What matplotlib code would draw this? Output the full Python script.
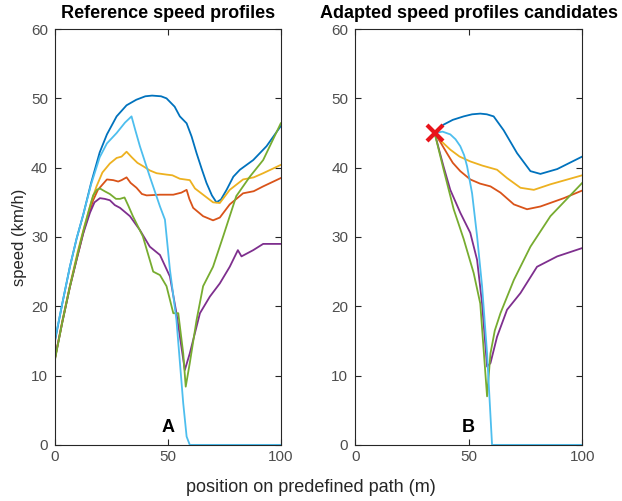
#reference and adapted speed profiles
import numpy as np
import matplotlib.pyplot as plt

plt.rcParams['font.family'] = ['Liberation Sans', 'DejaVu Sans']

#colours of the profiles
c_blue = "#0072BD"
c_orange = "#D95319"
c_yellow = "#EDB120"
c_purple = "#7E2F8E"
c_green = "#77AC30"
c_cyan = "#4DBEEE"

#panel A: reference speed profiles (position m, speed km/h)
a_blue_x = [0, 3.3, 6.6, 9.6, 12.5, 16, 19.8, 23, 27.3, 31.7, 36, 40, 43, 47, 49.4, 53, 55.3, 58.3, 60.5, 62.7, 65, 67.1, 69.5, 71.5, 73.5, 76, 79, 81.9, 87.8, 93.7, 100]
a_blue_y = [15, 20.5, 25.7, 29.8, 33.2, 37.8, 42.2, 44.8, 47.4, 49.0, 49.8, 50.3, 50.4, 50.3, 50.0, 48.8, 47.4, 46.4, 44.5, 42.1, 39.8, 37.8, 36.0, 35.0, 35.4, 36.8, 38.7, 39.7, 41.1, 43.1, 46.0]

a_cyan_x = [0, 3.3, 6.6, 9.6, 12.5, 16, 19.8, 23, 27.3, 31, 33.9, 35.5, 37.6, 42, 46.5, 48.7, 50.9, 53.8, 56.8, 58.3, 59.7, 100]
a_cyan_y = [15.2, 20.5, 25.7, 29.8, 33.2, 37.6, 41.5, 43.5, 45.0, 46.5, 47.4, 45.5, 43.1, 38.7, 34.4, 32.5, 25.3, 18.0, 6.0, 1.2, 0, 0]

a_yellow_x = [0, 3.3, 6.6, 10, 13, 16, 18.4, 21, 24.3, 27.3, 29.5, 31.7, 34, 36.5, 39.1, 42, 45, 49.4, 52, 55.3, 59.7, 62, 65.6, 70, 73, 77.4, 83.3, 88, 92.2, 100]
a_yellow_y = [12.5, 18.0, 23.0, 27.8, 31.5, 35.0, 37.3, 39.3, 40.6, 41.4, 41.6, 42.3, 41.5, 40.7, 40.2, 39.6, 39.2, 39.0, 38.9, 38.4, 38.2, 37.0, 36.1, 35.0, 34.9, 36.8, 38.3, 38.6, 39.2, 40.4]

a_orange_x = [0, 3.3, 6.6, 10, 13, 16.9, 19, 21.4, 23, 25.8, 28, 29.5, 31.7, 33.5, 36.1, 38.5, 40.6, 46.5, 52.4, 56, 58.3, 59.5, 61.2, 65.6, 70, 73, 77.4, 83.3, 88, 92.2, 100]
a_orange_y = [12.5, 17.8, 22.8, 27.3, 31.2, 35.3, 36.8, 37.7, 38.3, 38.2, 38.0, 38.2, 38.6, 37.8, 37.1, 36.2, 36.0, 36.1, 36.1, 36.4, 36.8, 35.5, 34.2, 33.0, 32.4, 32.8, 34.7, 36.3, 36.6, 37.3, 38.5]

a_green_x = [0, 3.3, 6.6, 10, 12.5, 15, 16.9, 18.5, 19.9, 22, 24.3, 27, 28.8, 30.8, 32.5, 34.5, 38.9, 43.5, 46.5, 49.4, 52.4, 54.6, 56.8, 57.9, 59.7, 62.7, 65.6, 70, 74.5, 80.3, 86.3, 92.2, 100]
a_green_y = [12.3, 17.8, 22.8, 27.5, 30.8, 33.8, 36.0, 36.8, 37.0, 36.6, 36.2, 35.5, 35.5, 35.7, 34.5, 33.0, 30.1, 25.0, 24.5, 22.9, 19.0, 19.0, 13.2, 8.4, 11.8, 18.0, 22.9, 25.7, 30.1, 35.9, 38.7, 41.1, 46.4]

a_purple_x = [0, 3.3, 6.6, 10, 12.5, 15.5, 17.5, 19.9, 22, 24.3, 26.5, 28.8, 33.2, 37.6, 42, 46.5, 50.9, 53.8, 57.5, 59.7, 64.2, 68.6, 73, 77.4, 81, 82.6, 87.8, 92.2, 100]
a_purple_y = [12.5, 17.8, 22.8, 27.3, 30.5, 33.5, 35.0, 35.6, 35.5, 35.3, 34.6, 34.2, 33.0, 31.0, 28.6, 27.4, 24.3, 19.0, 10.8, 13.2, 19.0, 21.4, 23.3, 25.7, 28.1, 27.2, 28.1, 29.0, 29.0]

#panel B: adapted candidates, all starting at the red cross
x0 = 35
v0 = 45

b_blue_x = [35, 38.9, 43, 47.8, 51.5, 55.1, 58, 61, 65.4, 71.3, 77.2, 81.6, 89, 100]
b_blue_y = [45, 46.2, 46.9, 47.4, 47.7, 47.8, 47.7, 47.4, 45.4, 42.1, 39.5, 39.1, 39.8, 41.6]

b_yellow_x = [35, 38, 41.9, 46, 50.7, 56, 62.5, 66.9, 72.8, 78.7, 86, 100]
b_yellow_y = [45, 43.8, 42.6, 41.6, 40.9, 40.3, 39.7, 38.5, 37.1, 36.8, 37.6, 38.9]

b_orange_x = [35, 37.5, 40.4, 43, 46.3, 50.7, 55, 59.6, 64, 69.9, 75.7, 81.6, 91.9, 100]
b_orange_y = [45, 43.7, 42.1, 40.7, 39.5, 38.3, 37.7, 37.3, 36.4, 34.7, 34.0, 34.4, 35.6, 36.7]

b_cyan_x = [35, 38.5, 41.9, 44.2, 46.3, 48, 49.3, 51.5, 53.7, 55.9, 58.1, 60.3, 100]
b_cyan_y = [45, 45.2, 44.8, 44.1, 43.1, 41.8, 40.2, 36.3, 30.1, 22.9, 13.2, 0, 0]

b_purple_x = [35, 38.9, 41.9, 46.3, 50.7, 53.7, 55.9, 58.1, 59.6, 62.5, 66.9, 72.8, 80.1, 89, 100]
b_purple_y = [45, 40.2, 36.8, 33.5, 30.6, 26.7, 20.4, 11.3, 11.8, 15.6, 19.5, 21.9, 25.7, 27.2, 28.4]

b_green_x = [35, 38.9, 43.4, 47.8, 52.2, 55.1, 58.1, 59.6, 61.5, 64, 69.9, 77.2, 86, 100]
b_green_y = [45, 39.8, 34.0, 29.7, 24.8, 20.4, 7.0, 13.2, 16.5, 19.0, 23.8, 28.6, 33.0, 37.8]

#make the plot
fig = plt.figure(figsize=(6.22, 5.01), dpi=100)
ax1 = fig.add_axes([0.0884, 0.112, 0.363, 0.830])
ax2 = fig.add_axes([0.571, 0.112, 0.365, 0.830])

lw = 1.3
ax1.plot(a_blue_x, a_blue_y, color=c_blue, lw=lw)
ax1.plot(a_orange_x, a_orange_y, color=c_orange, lw=lw)
ax1.plot(a_yellow_x, a_yellow_y, color=c_yellow, lw=lw)
ax1.plot(a_purple_x, a_purple_y, color=c_purple, lw=lw)
ax1.plot(a_green_x, a_green_y, color=c_green, lw=lw)
ax1.plot(a_cyan_x, a_cyan_y, color=c_cyan, lw=lw)

ax2.plot(b_blue_x, b_blue_y, color=c_blue, lw=lw)
ax2.plot(b_orange_x, b_orange_y, color=c_orange, lw=lw)
ax2.plot(b_yellow_x, b_yellow_y, color=c_yellow, lw=lw)
ax2.plot(b_purple_x, b_purple_y, color=c_purple, lw=lw)
ax2.plot(b_green_x, b_green_y, color=c_green, lw=lw)
ax2.plot(b_cyan_x, b_cyan_y, color=c_cyan, lw=lw)
ax2.plot([x0], [v0], marker="x", color="#E8141B", markersize=11, mew=3, zorder=5)

for ax, title, letter in [(ax1, "Reference speed profiles", "A"),
                          (ax2, "Adapted speed profiles candidates", "B")]:
    ax.set_xlim(0, 100)
    ax.set_ylim(0, 60)
    ax.set_xticks([0, 50, 100])
    ax.set_yticks([0, 10, 20, 30, 40, 50, 60])
    ax.tick_params(direction="in", top=True, right=True, labelsize=11,
                   colors="#262626", labelcolor="#4d4d4d", length=4, width=0.8)
    ax.tick_params(axis="y", pad=5)
    for s in ax.spines.values():
        s.set_color("#262626")
        s.set_linewidth(0.8)
    ax.set_title(title, fontsize=13, fontweight="bold", pad=8)
    ax.text(50, 2.5, letter, fontsize=13, fontweight="bold", ha="center", va="center")

ax1.set_ylabel("speed (km/h)", fontsize=12, color="#262626", labelpad=3)
fig.text(0.5, 0.01, "position on predefined path (m)", fontsize=13,
         ha="center", va="bottom", color="#262626")

plt.savefig("out.png", dpi=100)
